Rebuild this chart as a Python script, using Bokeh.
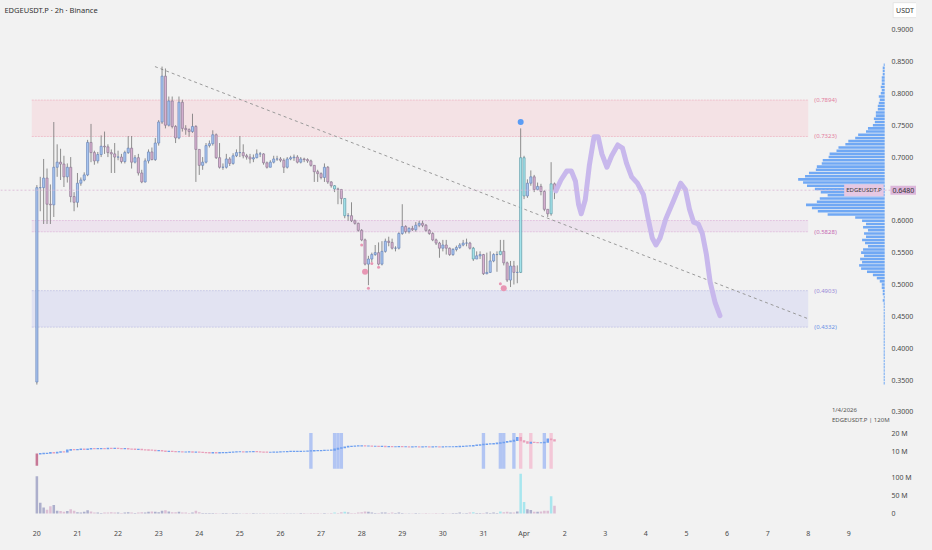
from bokeh.plotting import figure
from bokeh.models import Range1d, FixedTicker, Label, Span
from bokeh.layouts import column
from bokeh.embed import file_html
from bokeh.resources import INLINE
from bokeh.core.properties import value

# ---------------- data ----------------
title_text = "EDGEUSDT.P · 2h · Binance"
symbol = "EDGEUSDT.P"
quote = "USDT"
date_note = "1/4/2026"
interval_note = "120M"
day_labels = ["20", "21", "22", "23", "24", "25", "26", "27", "28", "29", "30", "31",
              "Apr", "2", "3", "4", "5", "6", "7", "8", "9"]
bars_per_day = 12

first_open = 0.347
close = [
    0.652, 0.652, 0.667, 0.626, 0.625, 0.684, 0.692, 0.689, 0.669, 0.684,
    0.638, 0.629, 0.659, 0.664, 0.672, 0.723, 0.707, 0.694, 0.704, 0.717,
    0.716, 0.707, 0.705, 0.700, 0.700, 0.693, 0.707, 0.714, 0.692, 0.699,
    0.675, 0.661, 0.694, 0.708, 0.696, 0.722, 0.755, 0.827, 0.750, 0.788,
    0.748, 0.730, 0.786, 0.745, 0.743, 0.740, 0.748, 0.712, 0.687, 0.692,
    0.718, 0.721, 0.735, 0.699, 0.684, 0.684, 0.697, 0.690, 0.702, 0.707,
    0.707, 0.702, 0.700, 0.697, 0.699, 0.705, 0.705, 0.691, 0.684, 0.692,
    0.697, 0.697, 0.695, 0.684, 0.697, 0.699, 0.700, 0.692, 0.697, 0.696,
    0.694, 0.687, 0.677, 0.674, 0.668, 0.684, 0.661, 0.655, 0.650, 0.649,
    0.635, 0.608, 0.608, 0.600, 0.596, 0.585, 0.570, 0.532, 0.540, 0.547,
    0.550, 0.532, 0.552, 0.568, 0.566, 0.557, 0.557, 0.580, 0.591, 0.583,
    0.588, 0.586, 0.593, 0.596, 0.593, 0.585, 0.580, 0.570, 0.565, 0.557,
    0.562, 0.557, 0.547, 0.555, 0.558, 0.562, 0.565, 0.565, 0.557, 0.540,
    0.545, 0.547, 0.517, 0.519, 0.537, 0.547, 0.547, 0.552, 0.534, 0.507,
    0.529, 0.519, 0.519, 0.699, 0.639, 0.659, 0.669, 0.649, 0.654, 0.646,
    0.618, 0.611, 0.658, 0.648,
]
high = [
    0.656, 0.669, 0.697, 0.682, 0.657, 0.755, 0.720, 0.713, 0.702, 0.690,
    0.700, 0.645, 0.675, 0.668, 0.676, 0.727, 0.752, 0.710, 0.708, 0.734,
    0.740, 0.720, 0.712, 0.722, 0.710, 0.705, 0.710, 0.733, 0.733, 0.703,
    0.705, 0.680, 0.698, 0.712, 0.715, 0.730, 0.758, 0.842, 0.839, 0.795,
    0.795, 0.750, 0.795, 0.790, 0.750, 0.745, 0.768, 0.750, 0.712, 0.700,
    0.722, 0.726, 0.742, 0.737, 0.722, 0.690, 0.705, 0.700, 0.706, 0.712,
    0.733, 0.720, 0.705, 0.705, 0.704, 0.712, 0.708, 0.706, 0.693, 0.695,
    0.702, 0.702, 0.700, 0.698, 0.700, 0.702, 0.704, 0.703, 0.700, 0.699,
    0.698, 0.696, 0.687, 0.680, 0.676, 0.690, 0.686, 0.662, 0.656, 0.652,
    0.650, 0.635, 0.612, 0.629, 0.602, 0.597, 0.587, 0.572, 0.545, 0.550,
    0.562, 0.566, 0.568, 0.572, 0.575, 0.572, 0.560, 0.582, 0.626, 0.593,
    0.590, 0.592, 0.598, 0.600, 0.600, 0.595, 0.587, 0.582, 0.572, 0.567,
    0.570, 0.570, 0.558, 0.557, 0.561, 0.565, 0.570, 0.572, 0.567, 0.559,
    0.552, 0.552, 0.548, 0.550, 0.552, 0.549, 0.552, 0.570, 0.570, 0.536,
    0.537, 0.537, 0.530, 0.745, 0.702, 0.665, 0.679, 0.672, 0.660, 0.658,
    0.648, 0.618, 0.692, 0.660,
]
low = [
    0.343, 0.615, 0.595, 0.595, 0.595, 0.606, 0.669, 0.664, 0.653, 0.660,
    0.629, 0.615, 0.621, 0.655, 0.662, 0.670, 0.692, 0.688, 0.690, 0.700,
    0.705, 0.700, 0.675, 0.675, 0.695, 0.690, 0.690, 0.705, 0.682, 0.690,
    0.671, 0.659, 0.660, 0.690, 0.695, 0.694, 0.718, 0.752, 0.745, 0.748,
    0.745, 0.722, 0.728, 0.740, 0.735, 0.732, 0.738, 0.661, 0.672, 0.680,
    0.690, 0.715, 0.718, 0.697, 0.682, 0.680, 0.682, 0.686, 0.688, 0.700,
    0.700, 0.698, 0.696, 0.690, 0.692, 0.698, 0.700, 0.688, 0.682, 0.684,
    0.690, 0.694, 0.692, 0.675, 0.682, 0.695, 0.694, 0.690, 0.690, 0.692,
    0.691, 0.685, 0.661, 0.661, 0.665, 0.661, 0.658, 0.652, 0.645, 0.626,
    0.626, 0.604, 0.600, 0.598, 0.594, 0.583, 0.568, 0.530, 0.499, 0.535,
    0.545, 0.530, 0.530, 0.550, 0.560, 0.555, 0.552, 0.555, 0.578, 0.580,
    0.580, 0.584, 0.583, 0.590, 0.590, 0.583, 0.578, 0.568, 0.562, 0.542,
    0.552, 0.547, 0.545, 0.545, 0.552, 0.556, 0.560, 0.560, 0.555, 0.537,
    0.540, 0.540, 0.515, 0.516, 0.518, 0.535, 0.520, 0.546, 0.530, 0.504,
    0.496, 0.500, 0.502, 0.518, 0.634, 0.636, 0.655, 0.645, 0.648, 0.640,
    0.615, 0.606, 0.608, 0.634,
]
volume = [
    103,
    30, 17, 11, 20, 24, 8, 7, 5, 7, 12,
    8, 4, 3, 5, 9, 6, 3, 3, 2, 3,
    3, 4, 3, 3, 2, 3, 4, 3, 2, 3,
    4, 3, 5, 6, 5, 4, 8, 9, 6, 4,
    4, 5, 3, 3, 2, 3, 8, 4, 2, 2,
    2, 2, 2, 1, 2, 2, 1, 2, 2, 1,
    1, 2, 1, 2, 1, 1, 2, 1, 1, 1,
    1, 1, 2, 1, 1, 1, 1, 2, 2, 1,
    2, 2, 2, 1, 2, 1, 2, 3, 2, 4,
    5, 3, 2, 2, 3, 4, 6, 5, 3, 2,
    2, 3, 3, 2, 3, 2, 3, 2, 1, 1,
    1, 2, 1, 1, 2, 1, 1, 2, 1, 2,
    1, 1, 2, 2, 3, 1, 2, 3, 4, 2,
    2, 2, 3, 2, 3, 2, 6, 4, 5, 3,
    3, 6, 110, 32, 12, 10, 5, 5, 6, 8,
    8, 48, 22,
]
cyan_bars = [88, 91, 129, 137, 143, 144, 152]

ind_first_open = 2.5
ind_close = [
    8.6,
    8.8, 8.9, 9.0, 9.3, 9.2, 9.5, 9.8, 9.7, 10.7, 11.0,
    10.9, 11.0, 11.2, 11.1, 11.3, 11.5, 11.4, 11.5, 11.6, 11.5,
    11.7, 11.6, 11.7, 11.6, 11.5, 11.5, 11.3, 11.2, 11.0, 11.1,
    10.9, 10.8, 10.7, 10.6, 10.4, 10.5, 10.2, 10.0, 10.1, 9.9,
    9.8, 9.8, 9.7, 9.7, 9.8, 9.6, 9.7, 9.5, 9.4, 9.3,
    9.2, 9.3, 9.2, 9.3, 9.3, 9.4, 9.5, 9.7, 9.8, 9.8,
    9.7, 9.8, 9.8, 9.9, 9.8, 9.7, 9.6, 9.5, 9.5, 9.6,
    9.7, 9.8, 9.8, 9.9, 10.0, 10.0, 10.0, 10.1, 10.1, 10.2,
    10.3, 10.4, 10.4, 10.5, 10.6, 10.6, 10.7, 11.2, 11.7, 12.0,
    12.4, 12.7, 12.8, 12.9, 13.0, 13.0, 12.9, 12.9, 12.8, 12.8,
    12.7, 12.7, 12.6, 12.6, 12.5, 12.5, 12.6, 12.5, 12.5, 12.4,
    12.5, 12.5, 12.4, 12.5, 12.5, 12.4, 12.5, 12.5, 12.4, 12.5,
    12.5, 12.5, 12.5, 12.6, 12.7, 12.8, 12.9, 13.0, 13.2, 13.4,
    13.6, 13.8, 14.0, 14.1, 14.2, 14.5, 14.7, 15.0, 15.3, 15.6,
    16.0, 17.5, 15.8, 15.2, 14.5, 15.0, 14.8, 14.7, 14.7, 15.0,
    16.7, 16.3, 15.7,
]
band_bars = [81, 88, 89, 90, 132, 137, 138, 141, 143, 146, 150, 152]
band_up = [1, 1, 1, 1, 1, 1, 1, 1, 0, 0, 1, 0]
band_low, band_high = 0.5, 20.0

zone_top = [0.7894, 0.6004, 0.4903]
zone_bottom = [0.7323, 0.5828, 0.4332]
zone_start, zone_end = -1.5, 228.0
zone_label_prices = [0.7894, 0.7323, 0.5828, 0.4903, 0.4332]

trend_idx = [34.9, 228.0]
trend_price = [0.842, 0.4462]

proj_idx = [153.4, 154.9, 156.6, 158.0, 159.2, 160.1, 160.9, 162.1, 163.3, 164.7,
            165.9, 167.0, 168.5, 169.9, 171.7, 173.1, 174.3, 175.8, 177.5, 179.3,
            180.7, 181.9, 183.0, 184.2, 185.9, 188.3, 190.3, 191.7, 192.9, 194.1,
            195.5, 196.7, 197.9, 199.0, 200.5, 201.9]
proj_price = [0.647, 0.664, 0.678, 0.678, 0.662, 0.626, 0.611, 0.633, 0.687, 0.732,
              0.732, 0.705, 0.684, 0.702, 0.719, 0.714, 0.690, 0.669, 0.659, 0.641,
              0.603, 0.573, 0.562, 0.573, 0.603, 0.633, 0.659, 0.649, 0.618, 0.598,
              0.595, 0.580, 0.547, 0.504, 0.471, 0.451]

marker_idx = [96, 97, 98, 99, 101, 137, 138, 143]
marker_price = [0.562, 0.520, 0.494, 0.533, 0.527, 0.501, 0.494, 0.755]
marker_big = [0, 1, 0, 0, 0, 0, 1, 1]
marker_up = [0, 0, 0, 0, 0, 0, 0, 1]

price_ticks = [0.30, 0.35, 0.40, 0.45, 0.50, 0.55, 0.60, 0.65, 0.70, 0.75, 0.80, 0.85, 0.90]
ind_ticks = [10, 20]
vol_ticks = [0, 50, 100]

prof_low, prof_step = 0.345, 0.005
prof_width = [
    1, 1, 1, 1, 1, 1, 1, 1, 1, 1, 1, 1, 1, 1, 1, 1, 1, 1, 1, 1,
    1, 1, 1, 1, 1, 1, 2, 1, 2,
    2, 3, 3, 5, 8, 12, 18, 24, 26, 23,
    25, 21, 24, 22, 17, 20, 23, 19, 21, 17,
    22, 19, 23, 30, 58, 68, 74, 80, 69, 66,
    58, 65, 71, 79, 83, 88, 81, 77, 70, 69,
    64, 63, 57, 56, 49, 47, 40, 37, 30, 27,
    19, 17, 12, 10, 11, 9, 9, 7, 7, 6,
    5, 6, 4, 3, 4, 3, 3, 3, 2, 2,
    2, 1,
]

# ---------------- styling ----------------
BG = "#f2f2f2"
FONT = "Noto Sans"
FW = 916
X0, X1 = -10.75, 260.0      # whole window width, price scale drawn on the right
PROF_R = 250.6              # right edge of the volume profile
LAB_X = 252.6               # left edge of the price-scale labels
BULL_F, BULL_L = "#a9c6f3", "#6c86b8"
BEAR_F, BEAR_L = "#d9b2d2", "#8e7b93"
CYAN_F, CYAN_L = "#aaeaf1", "#5f9aa6"
WICK = "#747474"
TICK_COL = "#4a4a4a"

n = len(close)
idx = list(range(n))
opens = [first_open] + close[:-1]
body_top = [max(o, c) for o, c in zip(opens, close)]
body_bot = [min(o, c) for o, c in zip(opens, close)]
wick_hi = [max(h, t) for h, t in zip(high, body_top)]
wick_lo = [min(l, b) for l, b in zip(low, body_bot)]
fills, lines, vcols = [], [], []
for i in idx:
    if i in cyan_bars:
        fills.append(CYAN_F); lines.append(CYAN_L); vcols.append("#a8e6ee")
    elif close[i] >= opens[i]:
        fills.append(BULL_F); lines.append(BULL_L); vcols.append("#adafcc")
    else:
        fills.append(BEAR_F); lines.append(BEAR_L); vcols.append("#ddbfd4")


def style(p):
    p.xgrid.visible = False
    p.ygrid.visible = False
    p.outline_line_color = None


def scale_labels(p, ticks, texts):
    p.text(x=[LAB_X] * len(ticks), y=ticks, text=texts, text_color=TICK_COL,
           text_font=value(FONT), text_font_size="7px", text_baseline="middle",
           text_align="left")


common = dict(output_backend="svg", toolbar_location=None, frame_width=FW,
              min_border_left=0, min_border_top=0, min_border_right=0,
              background_fill_color=BG, border_fill_color=BG, y_axis_location=None)

# ---------------- main price panel ----------------
xr = Range1d(X0, X1)
p = figure(frame_height=427, x_range=xr, y_range=Range1d(0.2756, 0.9457),
           x_axis_location=None, min_border_bottom=0, **common)
style(p)

zone_fill = ["#f4e2e5", "#ede3ee", "#e2e3f2"]
zone_edge = ["#efc3cd", "#e2c4e0", "#c9cbe7"]
p.quad(left=[zone_start] * 3, right=[zone_end] * 3, top=zone_top, bottom=zone_bottom,
       fill_color=zone_fill, line_color=None)
p.segment(x0=[zone_start] * 6, x1=[zone_end] * 6, y0=zone_top + zone_bottom,
          y1=zone_top + zone_bottom, line_color=zone_edge + zone_edge, line_width=1,
          line_dash="2 1")
label_cols = ["#e3819f", "#e3819f", "#c66bb3", "#9a8ad8", "#6a90e6"]
p.text(x=[zone_end + 1.8] * 5, y=zone_label_prices,
       text=["(%.4f)" % v for v in zone_label_prices], text_color=label_cols,
       text_font=value(FONT), text_font_size="6px", text_baseline="middle", text_align="left")

p.add_layout(Span(location=close[-1], dimension="width", line_color="#d9b6d5",
                  line_dash="2 2", line_width=1, line_alpha=0.8))

p.line(trend_idx, trend_price, line_color="#9a9a9a", line_dash="3 3", line_width=1)

# volume profile
prof_price = [prof_low + k * prof_step for k in range(len(prof_width))]
p.hbar(y=prof_price, height=prof_step * 0.8, right=PROF_R,
       left=[PROF_R - w / 3.44 for w in prof_width],
       fill_color="#62a0f4", line_color=None, fill_alpha=0.9)

# candles
p.segment(x0=idx, x1=idx, y0=wick_lo, y1=wick_hi, line_color=WICK, line_width=0.8)
p.vbar(x=idx, width=0.62, top=body_top, bottom=body_bot, fill_color=fills,
       line_color=lines, line_width=0.7)

# projection drawing
p.line(proj_idx, proj_price, line_color="#c8b8ec", line_width=5, line_cap="round",
       line_join="round")

mk_col = ["#5a9cf5" if u else "#e897b4" for u in marker_up]
mk_size = [6 if b else 3 for b in marker_big]
p.scatter(marker_idx, marker_price, size=mk_size, fill_color=mk_col, line_color=None)

# price scale
scale_labels(p, price_ticks, ["%.4f" % t for t in price_ticks])

p.add_layout(Label(x=-9.6, y=0.9305, text=title_text, text_font=FONT, text_font_size="7.5px",
                   text_color="#333333", text_baseline="middle"))
p.add_layout(Label(x=256.6, y=0.9305, text=quote, text_font=FONT, text_font_size="7px",
                   text_color="#333333", text_baseline="middle", text_align="center",
                   background_fill_color="white", border_line_color="#e4e4e4", padding=3))
p.add_layout(Label(x=PROF_R - 0.3, y=close[-1], text=symbol, text_font=FONT,
                   text_font_size="6px", text_color="#3a3a3a", text_baseline="middle",
                   text_align="right", background_fill_color="#e6c8e3", padding=2))
p.add_layout(Label(x=LAB_X - 0.3, y=close[-1], text="%.4f" % close[-1], text_font=FONT,
                   text_font_size="7px", text_color="#333333", text_baseline="middle",
                   text_align="left", background_fill_color="#dcb6da", padding=2))
p.add_layout(Label(x=235.0, y=0.3026, text=date_note, text_font=FONT, text_font_size="6px",
                   text_color="#555555", text_baseline="middle"))
p.add_layout(Label(x=235.0, y=0.2878, text="%s  |  %s" % (symbol, interval_note),
                   text_font=FONT, text_font_size="6px", text_color="#555555",
                   text_baseline="middle"))

# ---------------- indicator panel ----------------
p2 = figure(frame_height=45, x_range=xr, y_range=Range1d(-1.5, 23.0),
            x_axis_location=None, min_border_bottom=0, **common)
style(p2)
p2.vbar(x=band_bars, width=1.0, top=band_high, bottom=band_low,
        fill_color=["#b2c5f3" if u else "#f3c7d7" for u in band_up], line_color=None)
ind_open = [ind_first_open] + ind_close[:-1]
ind_cols = ["#c77896"] + ["#6fa0f0" if c >= o else "#e9a0bb"
                          for o, c in zip(ind_open[1:], ind_close[1:])]
p2.vbar(x=idx, width=0.75, top=[max(o, c) + 0.3 for o, c in zip(ind_open, ind_close)],
        bottom=[min(o, c) - 0.3 for o, c in zip(ind_open, ind_close)],
        fill_color=ind_cols, line_color=None)
scale_labels(p2, ind_ticks, ["%d M" % t for t in ind_ticks])

# ---------------- volume panel ----------------
p3 = figure(frame_height=46, x_range=xr, y_range=Range1d(-13.5, 113.5),
            min_border_bottom=16, **common)
style(p3)
p3.vbar(x=idx, width=0.75, top=volume, bottom=0, fill_color=vcols, line_color=None)
scale_labels(p3, vol_ticks, [("%d M" % t if t else "0") for t in vol_ticks])
p3.xaxis.ticker = FixedTicker(ticks=[k * bars_per_day for k in range(len(day_labels))])
p3.xaxis.major_label_overrides = {k * bars_per_day: lab for k, lab in enumerate(day_labels)}
p3.xaxis.axis_line_color = None
p3.xaxis.major_tick_line_color = None
p3.xaxis.minor_tick_line_color = None
p3.xaxis.major_label_text_font_size = "7px"
p3.xaxis.major_label_text_color = TICK_COL
p3.xaxis.major_label_text_font = FONT
p3.xaxis.major_label_standoff = 4

layout = column(p, p2, p3, spacing=0)
html = file_html(layout, INLINE)
html = html.replace("<head>", "<head><style>html,body{background:#f2f2f2;}</style>", 1)
open("out.html", "w").write(html)
